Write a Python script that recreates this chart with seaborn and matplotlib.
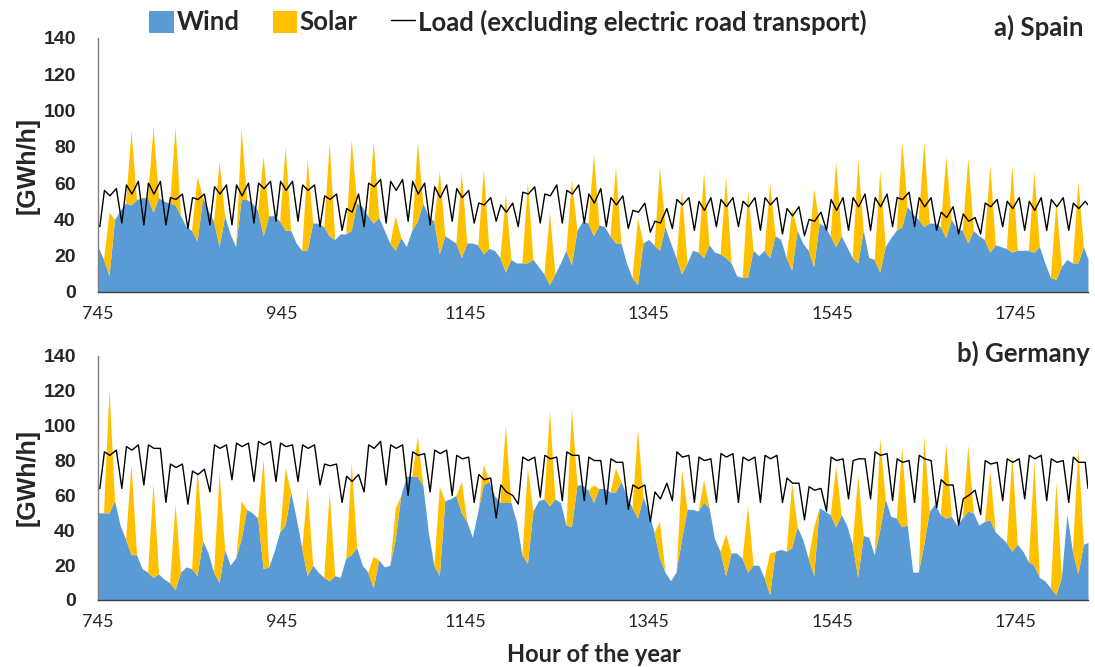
import numpy as np
import pandas as pd
import matplotlib
matplotlib.use("Agg")
import matplotlib.pyplot as plt
import seaborn as sns
from matplotlib.patches import Patch
from matplotlib.lines import Line2D

# hours 745..1824 = 45 days, values read per day off the figure
first_hour = 745
last_hour = 1824
wind_hours = [0, 6, 12, 18]   # wind read at these hours of each day
load_hours = [2, 7, 13, 20]   # night low, morning peak, midday dip, evening peak

# ---- a) Spain ----
spain_wind = [
    [25, 18, 9, 40], [45, 49, 48, 51], [52, 52, 44, 52], [50, 49, 48, 42], [36, 34, 28, 52],
    [45, 39, 25, 42], [32, 25, 51, 51], [49, 45, 31, 42], [42, 39, 34, 34], [27, 23, 23, 38],
    [38, 36, 31, 29], [32, 32, 34, 49], [47, 42, 38, 41], [34, 27, 23, 30], [25, 34, 39, 49],
    [42, 39, 21, 31], [29, 27, 19, 27], [27, 26, 21, 24], [23, 19, 11, 18], [16, 16, 16, 18],
    [14, 10, 4, 10], [16, 23, 15, 34], [39, 38, 31, 37], [36, 31, 27, 27], [16, 8, 4, 27],
    [29, 26, 23, 36], [27, 19, 10, 16], [23, 22, 19, 26], [22, 21, 19, 16], [9, 8, 8, 23],
    [20, 23, 19, 31], [29, 19, 12, 34], [27, 23, 14, 38], [36, 31, 25, 31], [25, 19, 16, 34],
    [19, 18, 11, 25], [30, 34, 36, 47], [43, 40, 36, 38], [38, 36, 30, 40], [35, 34, 27, 34],
    [31, 29, 22, 26], [25, 24, 22, 23], [23, 23, 22, 25], [16, 8, 7, 14], [18, 16, 16, 25],
]
spain_wind_end = 18
spain_solar_noon = [35, 41, 47, 43, 36, 47, 39, 44, 46, 50,
                    51, 50, 45, 19, 44, 46, 47, 47, 43, 45,
                    40, 47, 45, 42, 37, 46, 46, 47, 45, 48,
                    41, 34, 43, 47, 57, 56, 47, 47, 45, 47,
                    48, 48, 45, 43, 45]
spain_load = [
    [36, 56, 53, 57], [38, 59, 54, 61], [37, 60, 54, 61], [37, 52, 51, 54], [35, 52, 51, 54],
    [37, 58, 54, 59], [37, 59, 53, 60], [38, 60, 57, 61], [39, 61, 56, 61], [39, 59, 56, 59],
    [36, 53, 51, 54], [34, 46, 44, 54], [36, 60, 58, 62], [38, 61, 56, 62], [39, 61, 54, 60],
    [37, 58, 52, 59], [39, 57, 52, 56], [38, 49, 48, 52], [39, 48, 44, 49], [36, 55, 54, 58],
    [38, 54, 53, 59], [38, 56, 54, 59], [38, 54, 49, 57], [36, 52, 48, 53], [35, 45, 44, 49],
    [33, 39, 38, 46], [35, 51, 48, 52], [34, 50, 45, 52], [36, 51, 47, 52], [36, 50, 47, 52],
    [34, 52, 48, 52], [32, 46, 42, 47], [31, 40, 39, 44], [34, 51, 45, 52], [34, 52, 47, 54],
    [34, 52, 47, 54], [36, 52, 51, 55], [36, 52, 47, 52], [34, 44, 41, 47], [32, 43, 39, 41],
    [32, 49, 47, 51], [36, 50, 46, 52], [34, 50, 45, 52], [34, 51, 47, 52], [34, 49, 46, 50],
]
spain_load_start = 37
spain_load_end = 48

# ---- b) Germany ----
germany_wind = [
    [50, 50, 50, 57], [43, 35, 26, 26], [18, 16, 13, 15], [12, 10, 6, 16], [19, 18, 14, 34],
    [27, 16, 10, 29], [20, 24, 35, 52], [50, 47, 18, 19], [28, 39, 43, 62], [47, 30, 14, 20],
    [16, 13, 11, 14], [13, 24, 26, 30], [20, 16, 7, 23], [19, 20, 35, 60], [71, 71, 71, 66],
    [39, 20, 14, 57], [58, 60, 50, 45], [36, 51, 66, 68], [60, 56, 56, 56], [45, 26, 21, 51],
    [57, 58, 54, 58], [56, 43, 42, 66], [66, 63, 56, 64], [64, 62, 62, 68], [60, 53, 47, 59],
    [51, 39, 24, 16], [11, 16, 35, 52], [52, 51, 56, 53], [35, 28, 14, 27], [27, 24, 16, 20],
    [20, 13, 3, 28], [29, 28, 30, 42], [35, 24, 14, 53], [51, 49, 42, 49], [43, 32, 13, 37],
    [36, 26, 40, 58], [48, 47, 42, 43], [16, 16, 32, 51], [55, 49, 47, 48], [43, 47, 51, 50],
    [43, 45, 46, 39], [36, 33, 28, 32], [28, 22, 20, 13], [11, 7, 3, 13], [49, 28, 15, 32],
]
germany_wind_end = 33
germany_solar_noon = [71, 52, 54, 49, 61, 63, 22, 63, 33, 50,
                      51, 53, 18, 18, 23, 51, 18, 12, 44, 55,
                      55, 68, 10, 14, 51, 21, 40, 13, 24, 38,
                      24, 37, 28, 35, 59, 53, 46, 62, 43, 38,
                      28, 55, 60, 65, 72]
germany_load = [
    [64, 85, 83, 86], [64, 88, 86, 89], [66, 89, 87, 87], [56, 78, 76, 78], [55, 74, 72, 75],
    [62, 89, 87, 89], [69, 90, 88, 90], [68, 91, 89, 91], [68, 90, 88, 89], [68, 89, 87, 89],
    [66, 78, 77, 78], [56, 71, 68, 72], [62, 89, 87, 91], [66, 89, 87, 89], [60, 85, 83, 84],
    [62, 86, 84, 86], [60, 83, 81, 82], [56, 72, 69, 70], [47, 66, 62, 60], [55, 82, 80, 82],
    [59, 83, 81, 82], [57, 85, 83, 83], [57, 82, 80, 80], [55, 81, 79, 79], [52, 66, 64, 66],
    [45, 62, 58, 67], [57, 85, 82, 83], [56, 82, 80, 81], [56, 84, 82, 84], [56, 82, 80, 82],
    [56, 83, 81, 83], [56, 70, 67, 67], [46, 65, 63, 64], [51, 82, 80, 81], [58, 80, 81, 81],
    [58, 85, 83, 84], [57, 81, 79, 80], [56, 83, 81, 80], [53, 69, 66, 66], [43, 58, 60, 63],
    [49, 80, 78, 79], [57, 81, 79, 81], [58, 83, 81, 83], [57, 81, 79, 80], [56, 82, 79, 79],
]
germany_load_start = 64
germany_load_end = 64

wind_color = "#5B9BD5"
solar_color = "#FFC000"


def day_series(rows, hours):
    rows = np.asarray(rows, dtype=float)
    x = first_hour + (np.arange(len(rows))[:, None] * 24 + np.asarray(hours)[None, :]).ravel()
    return x, rows.ravel()


def build_frames(wind, wind_end, solar_noon, load, load_start, load_end):
    x, w = day_series(wind, wind_hours)
    s = np.zeros_like(w)
    s[2::4] = solar_noon          # solar only at noon, zero at 0h/6h/18h
    area = pd.DataFrame({"hour": np.append(x, last_hour),
                         "wind": np.append(w, wind_end),
                         "solar": np.append(s, 0.0)})
    lx, lv = day_series(load, load_hours)
    line = pd.DataFrame({"hour": np.concatenate([[first_hour], lx, [last_hour]]),
                         "load": np.concatenate([[load_start], lv, [load_end]])})
    return area, line


sns.set_style("white")
plt.rcParams["font.family"] = ["Lato", "DejaVu Sans"]

fig = plt.figure(figsize=(10.95, 6.67), dpi=100)
ax_es = fig.add_axes([98 / 1095, 1 - 292 / 667, 990 / 1095, 254 / 667])
ax_de = fig.add_axes([98 / 1095, 1 - 600 / 667, 990 / 1095, 244 / 667])

panels = [
    (ax_es, build_frames(spain_wind, spain_wind_end, spain_solar_noon,
                         spain_load, spain_load_start, spain_load_end), "a) Spain", 1084, 27),
    (ax_de, build_frames(germany_wind, germany_wind_end, germany_solar_noon,
                         germany_load, germany_load_start, germany_load_end), "b) Germany", 1090, 353),
]

for ax, (area, line), title, tx, ty in panels:
    ax.fill_between(area["hour"], 0, area["wind"], color=wind_color, lw=0)
    ax.fill_between(area["hour"], area["wind"], area["wind"] + area["solar"],
                    color=solar_color, lw=0)
    sns.lineplot(data=line, x="hour", y="load", color="black", lw=1.0, ax=ax)

    ax.set_xlim(first_hour, last_hour)
    ax.set_ylim(0, 140)
    ax.set_yticks(range(0, 141, 20))
    ax.set_xticks(range(745, 1746, 200))
    ax.set_xticks([1245, 1745], minor=True)
    ax.tick_params(axis="x", which="major", length=0, pad=10, labelsize=13)
    ax.tick_params(axis="x", which="minor", length=9, direction="inout", color="#404040")
    ax.tick_params(axis="y", length=0, pad=16, labelsize=14)
    for lab in ax.get_yticklabels():
        lab.set_fontweight("bold")
        lab.set_family(["Liberation Sans", "DejaVu Sans"])
    ax.set_xlabel("")
    ax.set_ylabel("")
    for side in ["top", "right"]:
        ax.spines[side].set_visible(False)
    ax.spines["left"].set_color("#7f7f7f")
    ax.spines["bottom"].set_color("#404040")
    ax.spines["left"].set_linewidth(1.0)
    ax.spines["bottom"].set_linewidth(1.0)

    fig.text(tx / 1095, 1 - ty / 667, title, ha="right", va="center",
             fontsize=18.5, fontweight="bold")
    mid = (ax.get_position().y0 + ax.get_position().y1) / 2
    fig.text(28 / 1095, mid, "[GWh/h]", rotation=90, ha="center", va="center",
             fontsize=18, fontweight="bold", family=["Liberation Sans", "DejaVu Sans"])

fig.text(594 / 1095, 1 - 654 / 667, "Hour of the year", ha="center", va="center",
         fontsize=17, fontweight="bold")

handles = [Patch(facecolor=wind_color, edgecolor="none"),
           Patch(facecolor=solar_color, edgecolor="none"),
           Line2D([0], [0], color="black", lw=1.0)]
fig.legend(handles, ["Wind", "Solar", "Load (excluding electric road transport)"],
           loc="center", bbox_to_anchor=(508 / 1095, 1 - 22 / 667), ncol=3, frameon=False,
           handlelength=0.95, handleheight=0.95, handletextpad=0.1, columnspacing=1.3,
           prop={"weight": "bold", "size": 18.5})

fig.savefig("out.png", dpi=100)
